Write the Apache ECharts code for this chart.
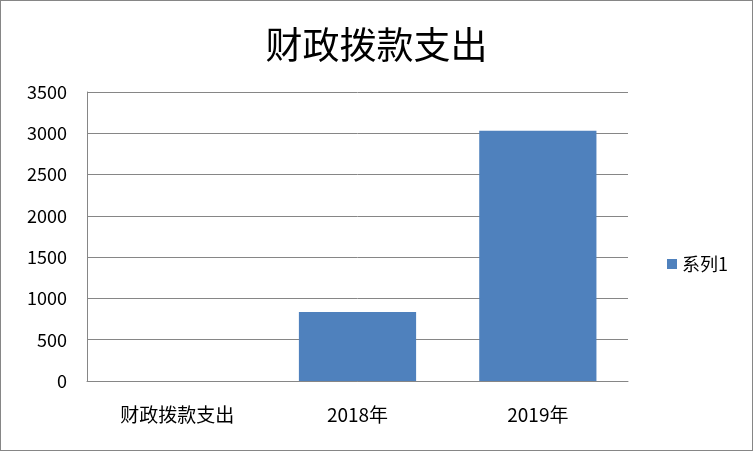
<!DOCTYPE html>
<html><head><meta charset="utf-8">
<script src="https://cdn.jsdelivr.net/npm/echarts@6/dist/echarts.min.js"></script>
<style>
html,body{margin:0;padding:0;background:#fff;}
#c{width:753px;height:451px;box-sizing:border-box;border:1px solid #868686;}
</style></head>
<body><div id="c"></div>
<script>
const titleText = '财政拨款支出';
const categories = ['财政拨款支出', '2018年', '2019年'];
const seriesName = '系列1';
const values = [0, 835, 3032];
const yMin = 0, yMax = 3500, yInterval = 500;

const chart = echarts.init(document.getElementById('c'), null, {renderer: 'canvas'});
const font = '"Noto Sans CJK SC", "Noto Sans", sans-serif';
chart.setOption({
  animation: false,
  title: {
    text: titleText, left: 'center', top: 20,
    textStyle: {fontFamily: font, fontSize: 37, fontWeight: 'normal', color: '#000'}
  },
  legend: {
    data: [seriesName], orient: 'vertical', left: 661, top: 249,
    itemWidth: 10, itemHeight: 10, icon: 'rect', itemGap: 5,
    textStyle: {fontFamily: font, fontSize: 18, color: '#000'}
  },
  grid: {left: 86, right: 124, top: 91, bottom: 69, containLabel: false},
  xAxis: {
    type: 'category', data: categories,
    axisLine: {show: true, lineStyle: {color: '#868686', width: 1}},
    axisTick: {show: false},
    axisLabel: {fontFamily: font, fontSize: 19, color: '#000', margin: 24}
  },
  yAxis: {
    type: 'value', min: yMin, max: yMax, interval: yInterval,
    axisLine: {show: true, lineStyle: {color: '#868686', width: 1}},
    axisTick: {show: false},
    axisLabel: {fontFamily: font, fontSize: 18, color: '#000', margin: 20, formatter: v => String(v)},
    splitLine: {show: true, lineStyle: {color: '#868686', width: 1}}
  },
  series: [{
    name: seriesName, type: 'bar', data: values,
    barCategoryGap: '35%',
    itemStyle: {color: '#4F81BD'}
  }]
});
</script></body></html>
